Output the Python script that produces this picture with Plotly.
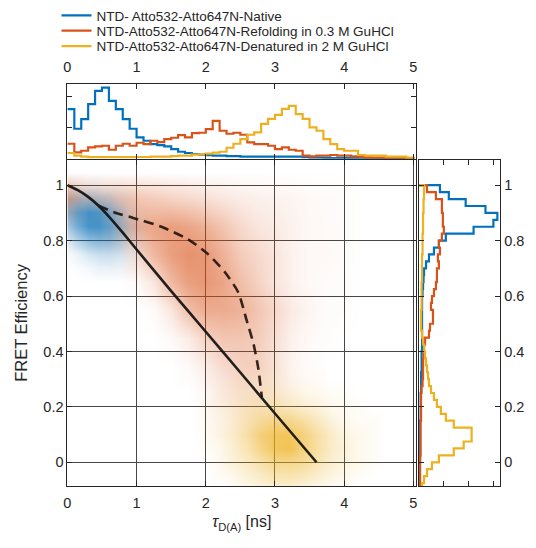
import plotly.graph_objects as go

# ---------------- data ----------------
names = ["NTD- Atto532-Atto647N-Native",
         "NTD-Atto532-Atto647N-Refolding in 0.3 M GuHCl",
         "NTD-Atto532-Atto647N-Denatured in 2 M GuHCl"]
colors = ["rgb(0,114,189)", "rgb(217,83,25)", "rgb(237,177,32)"]

# top histogram: tau_D(A), bins of 0.1 ns from 0 to 5 (arbitrary counts)
tau_edges = [round(0.1 * i, 2) for i in range(51)]
top_native = [49.7, 30, 39.7, 54.7, 68, 71.3, 58, 49.7, 39.7, 30,
              21.3, 18, 14.7, 13.7, 12.3, 9.7, 7, 5.7, 4.7, 4,
              3.5, 3, 3, 2.5, 2.5, 2, 2, 2, 2, 2,
              2, 2, 2, 2, 1.5, 1, 1, 0.8, 0.7, 0.6,
              0.5, 0.5, 0.4, 0.3, 0.3, 0.2, 0.2, 0.1, 0.1, 0.1]
top_refold = [15, 6.3, 8, 11.3, 12.3, 13, 9, 13, 15, 13,
              16, 14.7, 18, 16.7, 19.7, 21, 23.7, 21.3, 25.7, 26,
              29.7, 38, 28, 25, 26, 24, 16.3, 14.7, 14.7, 13,
              9.7, 11.3, 9, 8, 3, 2.3, 3, 3, 3.7, 3,
              3, 2.3, 2, 1.3, 1, 1, 0.7, 0.5, 0.5, 0.3]
top_denat = [5.7, 3, 2, 1.5, 1.5, 1.5, 1.5, 1.5, 1.5, 1.5,
             1.7, 1.7, 2, 2, 2, 2.5, 3, 3, 4, 4.3,
             5, 6, 7, 11, 15, 19.7, 24, 26.3, 35, 40,
             44, 50, 53, 44.7, 40, 31.3, 28, 19.7, 14.7, 9.7,
             8, 8, 3.7, 3, 3, 3, 2, 2, 2, 1]

# right histogram: FRET efficiency, bins of 0.025 from 1.0 down to -0.1
E_edges = [round(1.0 - 0.025 * i, 3) for i in range(45)]
right_native = [21, 30, 47, 67, 79, 75, 55, 27, 20, 15,
                10, 7, 5, 4.5, 4, 3.5, 3, 3, 3, 3,
                3, 3, 3, 3, 2.5, 2.5, 2.5, 2, 2, 2,
                1.5, 1.5, 1.5, 1.5, 1, 1, 1, 1, 1, 1,
                0.5, 0.5, 0.5, 0.5]
right_refold = [8, 17, 23, 23, 24, 24, 25, 23, 20, 21,
                19, 20, 18, 18, 17, 15, 13, 12, 14, 14,
                11, 10, 6, 5, 4.5, 4, 4, 4, 3.5, 2.5,
                2, 2, 2, 2, 1.5, 1.5, 1.5, 1.5, 1.5, 1,
                1, 1, 1, 0.5]
right_denat = [5, 5, 4.5, 4.5, 4, 4, 4, 3.5, 3.5, 3.5,
               3, 3, 3, 3, 2.5, 2.5, 2.5, 2.5, 2, 2,
               2, 3, 4, 5, 6, 7, 8, 9, 10, 12,
               15, 18, 22, 27, 35, 53, 53, 45, 35, 20,
               13, 8, 5, 3]

# 2D densities (relative, 0..1)
orange_tau = [0, 0.25, 0.5, 0.75, 1.0, 1.25, 1.5, 1.75, 2.0, 2.25, 2.5, 2.75,
              3.0, 3.25, 3.5, 3.75, 4.0, 4.25]
orange_E = [1.05, 0.95, 0.85, 0.75, 0.65, 0.55, 0.45, 0.35, 0.25, 0.15, 0.05]
orange_z = [
    [0, 0, 0, 0, 0, 0, 0, 0, 0, 0, 0, 0, 0, 0, 0, 0, 0, 0],
    [.75, .45, .4, .45, .45, .4, .35, .3, .25, .2, .15, .12, .1, .08, .05, .04, .03, 0],
    [.1, .1, .2, .45, .6, .7, .75, .7, .6, .45, .3, .2, .15, .1, .06, .04, .03, 0],
    [0, 0, .02, .05, .25, .55, .75, .85, .8, .6, .4, .3, .2, .1, .05, .05, .03, 0],
    [0, 0, 0, 0, .05, .2, .55, .75, .8, .7, .5, .35, .2, .1, .05, .03, .02, 0],
    [0, 0, 0, 0, 0, .03, .2, .5, .65, .65, .6, .45, .3, .15, .08, .03, .02, 0],
    [0, 0, 0, 0, 0, 0, .05, .15, .35, .45, .45, .4, .25, .1, .05, .02, 0, 0],
    [0, 0, 0, 0, 0, 0, 0, .05, .15, .3, .35, .35, .2, .08, .03, 0, 0, 0],
    [0, 0, 0, 0, 0, 0, 0, 0, .06, .15, .2, .2, .12, .05, 0, 0, 0, 0],
    [0, 0, 0, 0, 0, 0, 0, 0, .02, .05, .08, .08, .05, .02, 0, 0, 0, 0],
    [0, 0, 0, 0, 0, 0, 0, 0, 0, 0, 0, 0, 0, 0, 0, 0, 0, 0],
]
blue_tau = [0, 0.15, 0.3, 0.45, 0.6, 0.75, 0.9, 1.05, 1.2]
blue_E = [1.05, 1.0, 0.95, 0.9, 0.85, 0.8, 0.75, 0.7, 0.65]
blue_z = [
    [0, 0, 0, 0, 0, 0, 0, 0, 0],
    [.03, .05, .05, .05, .03, .02, 0, 0, 0],
    [.2, .35, .4, .35, .25, .12, .05, 0, 0],
    [.45, .7, .85, .8, .6, .35, .12, .03, 0],
    [.4, .65, .85, .85, .7, .45, .2, .05, 0],
    [.15, .35, .5, .55, .5, .35, .15, .05, 0],
    [.03, .1, .2, .25, .25, .2, .1, .03, 0],
    [0, .03, .05, .1, .1, .08, .05, 0, 0],
    [0, 0, 0, 0, 0, 0, 0, 0, 0],
]
yellow_tau = [1.8, 2.0, 2.2, 2.4, 2.6, 2.8, 3.0, 3.2, 3.4, 3.6, 3.8, 4.0, 4.2, 4.4, 4.6]
yellow_E = [0.4, 0.35, 0.3, 0.25, 0.2, 0.15, 0.1, 0.05, 0.0, -0.05, -0.1]
yellow_z = [
    [0, 0, 0, 0, 0, 0, 0, 0, 0, 0, 0, 0, 0, 0, 0],
    [0, 0, 0, 0, .05, .05, .05, 0, 0, 0, 0, 0, 0, 0, 0],
    [0, 0, 0, .05, .1, .1, .1, .05, .05, .05, 0, 0, 0, 0, 0],
    [0, 0, .05, .1, .15, .2, .2, .15, .1, .1, .05, .05, 0, 0, 0],
    [0, .05, .1, .15, .25, .3, .35, .3, .25, .2, .1, .05, .05, 0, 0],
    [0, .05, .1, .2, .35, .5, .6, .6, .5, .35, .2, .1, .05, .05, 0],
    [0, .05, .15, .25, .45, .7, .85, .85, .7, .5, .3, .15, .1, .05, 0],
    [0, .05, .1, .25, .4, .65, .85, .9, .7, .5, .3, .2, .1, .05, 0],
    [0, 0, .1, .2, .3, .45, .6, .6, .55, .4, .25, .15, .1, .05, 0],
    [0, 0, .05, .1, .2, .3, .4, .4, .35, .25, .15, .1, .05, 0, 0],
    [0, 0, 0, .05, .1, .15, .2, .2, .15, .1, .05, .05, 0, 0, 0],
]

# static and dynamic FRET lines
static_tau = [0, 0.15, 0.3, 0.45, 0.6, 0.8, 1.0, 1.5, 2.0, 2.5, 3.0, 3.6]
static_E = [1.0, 0.982, 0.958, 0.926, 0.887, 0.829, 0.768, 0.618, 0.471, 0.324, 0.176, 0.0]
dyn_tau = [0.45, 0.7, 0.95, 1.36, 1.74, 2.02, 2.28, 2.47, 2.59, 2.69, 2.76, 2.81]
dyn_E = [0.926, 0.9, 0.882, 0.85, 0.805, 0.754, 0.685, 0.613, 0.513, 0.427, 0.337, 0.235]

main_ticks_x = [0, 1, 2, 3, 4, 5]
main_ticks_y = [0, 0.2, 0.4, 0.6, 0.8, 1]
main_ticktext_y = ["0", "0.2", "0.4", "0.6", "0.8", "1"]

# ---------------- figure ----------------
W, H = 536, 548
def fx(px): return px / W
def fy(py): return 1 - py / H

fig = go.Figure()

def alpha_scale(rgb, amax):
    return [[0, f"rgba({rgb},0)"], [1, f"rgba({rgb},{amax})"]]

def hm(tau, E, z, rgb, amax):
    pairs = sorted(zip(E, z))
    fig.add_trace(go.Heatmap(
        x=tau, y=[p[0] for p in pairs], z=[p[1] for p in pairs],
        zmin=0, zmax=1, zsmooth="best", showscale=False, hoverinfo="skip",
        colorscale=alpha_scale(rgb, amax), xaxis="x", yaxis="y"))

hm(orange_tau, orange_E, orange_z, "217,83,25", 0.75)
hm(blue_tau, blue_E, blue_z, "0,114,189", 0.85)
hm(yellow_tau, yellow_E, yellow_z, "237,177,32", 0.85)

fig.add_trace(go.Scatter(x=static_tau, y=static_E, mode="lines", showlegend=False,
                         line=dict(color="rgba(15,15,15,0.92)", width=2.6, shape="spline", smoothing=0.5),
                         xaxis="x", yaxis="y"))
fig.add_trace(go.Scatter(x=dyn_tau, y=dyn_E, mode="lines", showlegend=False,
                         line=dict(color="rgba(35,22,15,0.92)", width=2.6, dash="10px,6px",
                                   shape="spline", smoothing=0.6),
                         xaxis="x", yaxis="y"))

# top histograms (one legend per entry, stacked tightly as in the reference)
legend_ids = ["legend", "legend2", "legend3"]
for name, col, vals, lg in zip(names, colors, [top_native, top_refold, top_denat], legend_ids):
    fig.add_trace(go.Scatter(x=tau_edges, y=vals + [0], mode="lines", name=name, legend=lg,
                             line=dict(color=col, width=2.2, shape="hv"),
                             xaxis="x2", yaxis="y2"))

# right histograms
for col, vals in zip(colors, [right_native, right_refold, right_denat]):
    fig.add_trace(go.Scatter(x=[0] + vals + [0], y=[E_edges[0]] + E_edges[:44] + [E_edges[44]],
                             mode="lines", showlegend=False,
                             line=dict(color=col, width=2.2, shape="vh"),
                             xaxis="x3", yaxis="y3"))

axcol = "rgb(38,38,38)"
fam = "Liberation Sans, Arial"
tickfont = dict(family=fam, size=14.5, color=axcol)
ylim = [-0.086, 1.092]
xlim = [0, 5.04]

common = dict(showline=True, linecolor=axcol, linewidth=1, ticks="inside", ticklen=5,
              tickcolor=axcol, tickfont=tickfont, zeroline=False)

def leg(py):
    return dict(x=fx(53), y=fy(py), xanchor="left", yanchor="middle", bgcolor="rgba(0,0,0,0)",
                font=dict(family=fam, size=13.5, color=axcol), itemwidth=30,
                borderwidth=0)

fig.update_layout(
    width=W, height=H, margin=dict(l=0, r=0, t=0, b=0),
    paper_bgcolor="white", plot_bgcolor="white",
    font=dict(family=fam, color=axcol),
    xaxis=dict(domain=[fx(64), fx(416)], range=xlim, tickvals=main_ticks_x,
               showgrid=True, gridcolor="rgb(70,70,70)", gridwidth=1, mirror="ticks",
               ticklabelstandoff=3,
               title=dict(text="<i>τ</i><sub>D(A)</sub> [ns]", font=dict(size=16), standoff=6),
               anchor="y", **common),
    yaxis=dict(domain=[fy(486), fy(159)], range=ylim, tickvals=main_ticks_y, ticktext=main_ticktext_y,
               showgrid=True, gridcolor="rgb(70,70,70)", gridwidth=1, mirror="ticks",
               title=dict(text="FRET Efficiency", font=dict(size=16.5), standoff=11),
               anchor="x", **common),
    xaxis2=dict(domain=[fx(64), fx(416)], range=xlim, tickvals=main_ticks_x, side="top",
                ticklabelstandoff=5,
                showgrid=False, mirror="ticks", anchor="y2", **common),
    yaxis2=dict(domain=[fy(158), fy(83)], range=[0, 75], tickvals=[0, 31, 62],
                showticklabels=False, showgrid=False, mirror="ticks", anchor="x2", **common),
    xaxis3=dict(domain=[fx(419), fx(501)], range=[0, 82], tickvals=[25, 50, 75],
                showticklabels=False, showgrid=False, mirror="ticks", anchor="y3", **common),
    yaxis3=dict(domain=[fy(486), fy(159)], range=ylim, tickvals=main_ticks_y, ticktext=main_ticktext_y,
                side="right", showgrid=False, mirror="ticks", anchor="x3", **common),
    legend=leg(14.5),
    legend2=leg(30),
    legend3=leg(45.5),
)

fig.write_html("out.html")
